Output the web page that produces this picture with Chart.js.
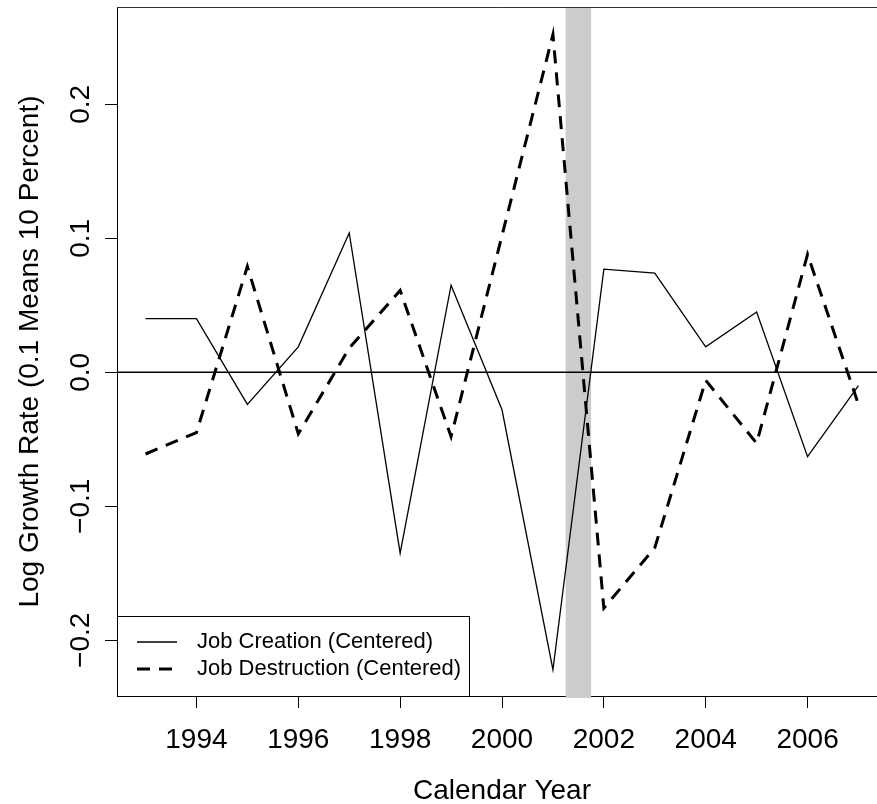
<!DOCTYPE html>
<html>
<head>
<meta charset="utf-8">
<script src="https://cdn.jsdelivr.net/npm/chart.js@4.4.1/dist/chart.umd.min.js"></script>
<style>
    html, body { margin: 0; padding: 0; overflow: hidden; background: #fff; }
    canvas { display: block; }
</style>
</head>
<body>
<canvas id="grafico" width="895" height="804"></canvas>
<script>
// Dados (crescimento em log, centrado)
const anos = [1993, 1994, 1995, 1996, 1997, 1998, 1999, 2000, 2001, 2002, 2003, 2004, 2005, 2006, 2007];
const criacao = [0.040, 0.040, -0.024, 0.019, 0.104, -0.135, 0.065, -0.028, -0.222, 0.077, 0.074, 0.019, 0.045, -0.063, -0.010];
const destruicao = [-0.061, -0.045, 0.079, -0.046, 0.018, 0.061, -0.048, 0.102, 0.252, -0.176, -0.131, -0.006, -0.053, 0.088, -0.024];
const rotulos = ['Job Creation (Centered)', 'Job Destruction (Centered)'];
const ticksX = [1994, 1996, 1998, 2000, 2002, 2004, 2006];
const ticksY = [-0.2, -0.1, 0.0, 0.1, 0.2];
const recessao = [2001.25, 2001.75];

Chart.defaults.font.family = '"Liberation Sans", Arial, sans-serif';
Chart.defaults.color = '#000';

const tracejado = [13, 9];

// Faixa cinza, linha do zero, resto da caixa e legenda
const extras = {
    id: 'extras',
    beforeDatasetsDraw(chart) {
        const { ctx, chartArea: area, scales: { x, y } } = chart;
        ctx.save();

        const x0 = x.getPixelForValue(recessao[0]);
        const x1 = x.getPixelForValue(recessao[1]);
        ctx.fillStyle = '#cccccc';
        ctx.fillRect(x0, area.top, x1 - x0, area.bottom - area.top + 2);

        const y0 = y.getPixelForValue(0);
        ctx.strokeStyle = '#000';
        ctx.lineWidth = 1.3;
        ctx.beginPath();
        ctx.moveTo(area.left, y0);
        ctx.lineTo(area.right, y0);
        ctx.stroke();

        ctx.lineWidth = 1;
        ctx.strokeStyle = '#333';
        ctx.beginPath();
        ctx.moveTo(area.left, area.top + 0.5);
        ctx.lineTo(area.right - 0.5, area.top + 0.5);
        ctx.lineTo(area.right - 0.5, area.bottom);
        ctx.stroke();
        ctx.restore();
    },
    afterDatasetsDraw(chart) {
        const { ctx, chartArea: area } = chart;
        const esq = area.left + 0.5;
        const topo = area.bottom - 80 + 0.5;
        ctx.save();
        ctx.fillStyle = '#fff';
        ctx.fillRect(esq, topo, 352, 80);
        ctx.strokeStyle = '#000';
        ctx.lineWidth = 1;
        ctx.strokeRect(esq, topo, 352, 80);

        const linhas = [topo + 25.5, topo + 52.5];
        const larguras = [1.3, 3];
        ctx.font = '22px "Liberation Sans", Arial, sans-serif';
        ctx.textBaseline = 'middle';
        ctx.fillStyle = '#000';
        rotulos.forEach(function (texto, i) {
            ctx.beginPath();
            ctx.lineWidth = larguras[i];
            ctx.lineCap = 'butt';
            ctx.setLineDash(i === 1 ? tracejado : []);
            ctx.moveTo(area.left + 20, linhas[i]);
            ctx.lineTo(area.left + (i === 1 ? 55 : 60), linhas[i]);
            ctx.stroke();
            ctx.fillText(texto, area.left + 80, linhas[i]);
        });
        ctx.restore();
    }
};

const ctx = document.getElementById('grafico').getContext('2d');
const grafico = new Chart(ctx, {
    type: 'line',
    data: {
        datasets: [{
            label: rotulos[0],
            data: anos.map(function (a, i) { return { x: a, y: criacao[i] }; }),
            borderColor: '#000',
            borderWidth: 1.3,
            pointRadius: 0,
            tension: 0
        }, {
            label: rotulos[1],
            data: anos.map(function (a, i) { return { x: a, y: destruicao[i] }; }),
            borderColor: '#000',
            borderWidth: 3,
            borderDash: tracejado,
            borderCapStyle: 'butt',
            pointRadius: 0,
            tension: 0
        }]
    },
    options: {
        responsive: false,
        animation: false,
        layout: { padding: { left: 0, top: 7, right: 8, bottom: 0 } },
        plugins: {
            legend: { display: false },
            tooltip: { enabled: false }
        },
        scales: {
            x: {
                type: 'linear',
                min: 1992.44,
                max: 2007.56,
                afterBuildTicks: function (s) { s.ticks = ticksX.map(function (v) { return { value: v }; }); },
                afterFit: function (s) { s.height = 108; s.paddingLeft = 0; s.paddingRight = 0; },
                grid: { drawOnChartArea: false, tickLength: 12, color: '#000' },
                border: { color: '#000', width: 1 },
                ticks: {
                    autoSkip: false,
                    maxRotation: 0,
                    padding: 15,
                    font: { size: 28 },
                    color: '#000',
                    callback: function (v) { return String(v); }
                },
                title: {
                    display: true,
                    text: 'Calendar Year',
                    font: { size: 28, lineHeight: 0.93 },
                    padding: 0,
                    color: '#000'
                }
            },
            y: {
                min: -0.2416,
                max: 0.2726,
                afterBuildTicks: function (s) { s.ticks = ticksY.map(function (v) { return { value: v }; }); },
                afterFit: function (s) { s.width = 117; s.paddingTop = 0; s.paddingBottom = 0; },
                grid: { drawOnChartArea: false, tickLength: 12, color: '#000' },
                border: { color: '#000', width: 1 },
                ticks: {
                    minRotation: 90,
                    maxRotation: 90,
                    crossAlign: 'center',
                    padding: -4,
                    font: { size: 28 },
                    color: '#000',
                    callback: function (v) { return v.toFixed(1).replace('-', '\u2212'); }
                },
                title: {
                    display: true,
                    text: 'Log Growth Rate (0.1 Means 10 Percent)',
                    font: { size: 28, lineHeight: 1 },
                    padding: { top: 16, bottom: 0 },
                    color: '#000'
                }
            }
        }
    },
    plugins: [extras]
});
</script>
</body>
</html>
